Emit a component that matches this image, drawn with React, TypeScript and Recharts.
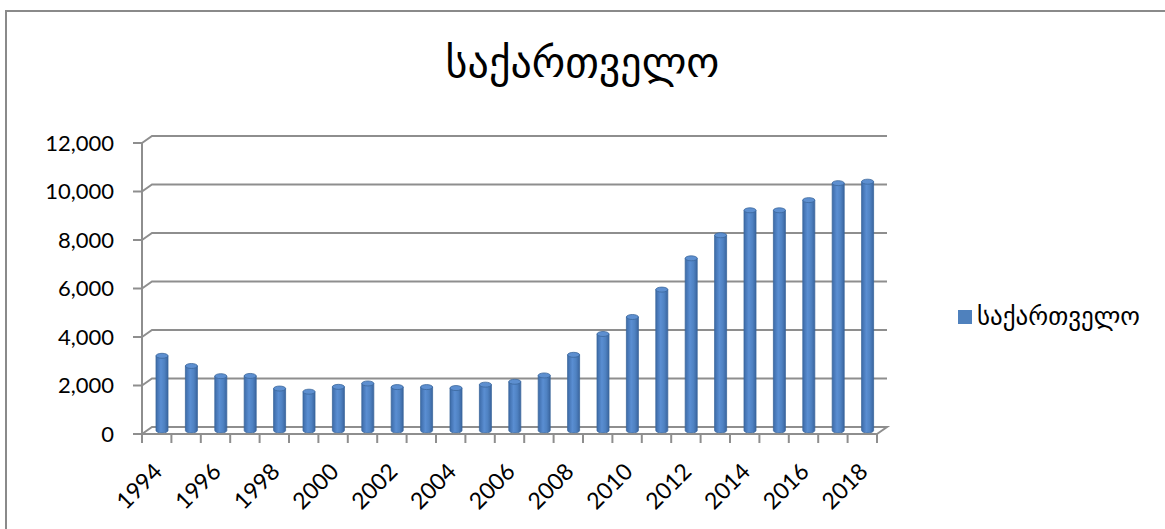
import React from 'react';
import { BarChart, Bar, XAxis, YAxis, CartesianGrid } from 'recharts';

const years = [
  '1994', '1995', '1996', '1997', '1998', '1999', '2000', '2001', '2002', '2003',
  '2004', '2005', '2006', '2007', '2008', '2009', '2010', '2011', '2012', '2013',
  '2014', '2015', '2016', '2017', '2018',
];
const values = [
  3080, 2660, 2240, 2250, 1730, 1600, 1800, 1940, 1790, 1790,
  1750, 1890, 2010, 2270, 3120, 3980, 4680, 5810, 7100, 8050,
  9080, 9080, 9500, 10200, 10260,
];
const yTicks = [0, 2000, 4000, 6000, 8000, 10000, 12000];
const seriesName = 'საქართველო';
const title = 'საქართველო';

const data = years.map((year, i) => ({ year, value: values[i] }));

const W = 1165;
const H = 529;
const PLOT_LEFT = 142;
const PLOT_RIGHT = 877;
const PLOT_TOP = 143;
const PLOT_BOTTOM = 434;
const BAND = (PLOT_RIGHT - PLOT_LEFT) / years.length;
const DEPTH_X = 10;
const DEPTH_Y = -7;
const GRID = '#8e8e8e';
const FONT = 'Lato, "Open Sans", sans-serif';
const GEO_FONT = '"DejaVu Sans", sans-serif';

const GridLine = (props: any) => {
  const { x1, y1, x2 } = props;
  const isFloor = Math.abs(y1 - PLOT_BOTTOM) < 1;
  let d = `M${x1} ${y1} L${x1 + DEPTH_X} ${y1 + DEPTH_Y} L${x2 + DEPTH_X} ${y1 + DEPTH_Y}`;
  if (isFloor) d += ` L${x2} ${y1}`;
  return <path key={`g-${y1}`} d={d} fill="none" stroke={GRID} strokeWidth={2} />;
};

const Cylinder = (props: any) => {
  const { x, y, width, height } = props;
  if (height == null || height <= 0) return null;
  const bx = x + DEPTH_X / 2;
  const by = y + DEPTH_Y / 2;
  const rx = width / 2;
  const ry = 2.5;
  return (
    <g>
      <path
        d={`M${bx} ${by} L${bx} ${by + height} A${rx} ${ry} 0 0 0 ${bx + width} ${by + height} L${bx + width} ${by} Z`}
        fill="url(#cylGrad)"
        stroke="#3b679c"
        strokeWidth={0.8}
      />
      <ellipse cx={bx + rx} cy={by} rx={rx} ry={ry} fill="#5d8fd0" stroke="#3b679c" strokeWidth={0.8} />
    </g>
  );
};

const XTick = (props: any) => {
  const { x, y, payload, index } = props;
  const last = index === years.length - 1;
  const ax = x + 7;
  const ay = y + 39;
  return (
    <g>
      <line x1={x - BAND / 2} y1={y} x2={x - BAND / 2} y2={y + 9} stroke={GRID} strokeWidth={2} />
      {last && <line x1={x + BAND / 2} y1={y} x2={x + BAND / 2} y2={y + 9} stroke={GRID} strokeWidth={2} />}
      {index % 2 === 0 && (
        <text
          x={ax}
          y={ay}
          transform={`rotate(-45 ${ax} ${ay})`}
          textAnchor="end"
          fontSize={23}
          fontFamily={FONT}
          fill="#000"
        >
          {payload.value}
        </text>
      )}
    </g>
  );
};

export default function App() {
  return (
    <div style={{ position: 'absolute', left: 0, top: 0, width: W, height: H, overflow: 'hidden', background: '#fff' }}>
      <div
        style={{
          position: 'absolute',
          left: 5,
          top: 10,
          width: W + 20,
          height: H + 20,
          border: '2px solid #8a8a8a',
        }}
      />
      <div
        style={{
          position: 'absolute',
          left: 0,
          width: W,
          top: 38,
          textAlign: 'center',
          fontFamily: GEO_FONT,
          fontSize: 42,
          color: '#000',
        }}
      >
        {title}
      </div>
      <div style={{ position: 'absolute', left: 0, top: 0 }}>
        <BarChart
          width={W}
          height={H}
          data={data}
          margin={{ top: PLOT_TOP, right: W - PLOT_RIGHT, bottom: 0, left: 0 }}
          barSize={12}
        >
          <defs>
            <linearGradient id="cylGrad" x1="0" y1="0" x2="1" y2="0">
              <stop offset="0%" stopColor="#3d6ba8" />
              <stop offset="40%" stopColor="#5a8ed2" />
              <stop offset="70%" stopColor="#4f82c2" />
              <stop offset="100%" stopColor="#3a659f" />
            </linearGradient>
          </defs>
          <CartesianGrid vertical={false} horizontal={GridLine} />
          <YAxis
            width={PLOT_LEFT}
            domain={[0, 12000]}
            ticks={yTicks}
            interval={0}
            tickSize={9}
            tickMargin={19}
            tickFormatter={(v: number) => v.toLocaleString('en-US')}
            tick={{ fill: '#000', fontSize: 22, fontFamily: FONT }}
            axisLine={{ stroke: GRID, strokeWidth: 2 }}
            tickLine={{ stroke: GRID, strokeWidth: 2 }}
          />
          <XAxis
            dataKey="year"
            height={H - PLOT_BOTTOM}
            interval={0}
            tickSize={0}
            tickMargin={0}
            tickLine={false}
            axisLine={{ stroke: GRID, strokeWidth: 2 }}
            tick={<XTick />}
          />
          <Bar dataKey="value" name={seriesName} shape={<Cylinder />} isAnimationActive={false} />
        </BarChart>
      </div>
      <div
        style={{
          position: 'absolute',
          left: 958,
          top: 302,
          display: 'flex',
          alignItems: 'center',
          fontFamily: GEO_FONT,
          fontSize: 25,
          color: '#000',
        }}
      >
        <span style={{ display: 'inline-block', width: 14, height: 14, background: '#4f81bd', marginRight: 5 }} />
        <span>{seriesName}</span>
      </div>
    </div>
  );
}
